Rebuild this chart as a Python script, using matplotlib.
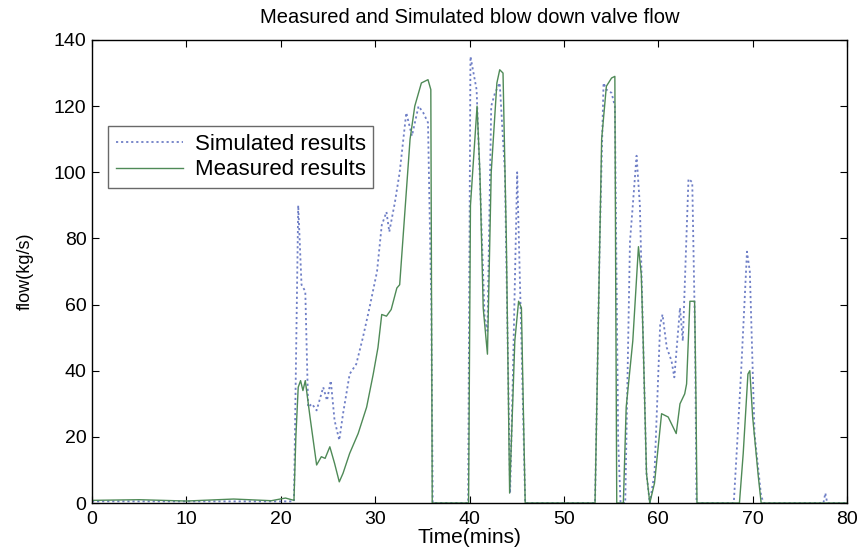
import matplotlib
matplotlib.use("Agg")
import matplotlib.pyplot as plt

plt.rcParams['font.family'] = ['Liberation Sans', 'DejaVu Sans']

# Simulated results (blue dotted)
sim_t = [0, 21.4, 21.55, 21.85, 22.2, 22.6, 22.9, 23.3, 23.8, 24.5, 24.9, 25.3, 25.7, 26.2, 26.6,
         27.3, 28.0, 28.7, 29.4, 30.2, 30.7, 31.2, 31.5, 32.1, 32.6, 33.3, 33.9, 34.6, 35.1, 35.6,
         35.95, 36.1, 39.85, 40.1, 40.75, 41.1, 41.6, 41.9, 42.3, 42.7, 43.2, 43.75, 44.3, 44.6,
         45.05, 45.5, 45.9, 53.3, 53.8, 54.2, 54.5, 55.05, 55.4, 55.75, 56.0, 56.5, 57.0, 57.3,
         57.7, 58.05, 58.4, 58.75, 59.1, 59.6, 60.2, 60.45, 60.9, 61.4, 61.7, 62.3, 62.6, 63.2,
         63.6, 63.9, 64.05, 68.0, 68.4, 68.8, 69.4, 69.7, 70.2, 70.9, 71.2, 77.5, 77.7, 77.9, 80]
sim_v = [0.5, 0.5, 30, 90, 66, 64, 29, 30, 28, 35, 31, 37, 25, 19, 27,
         39, 42, 50, 59, 70, 84, 88, 82, 91, 100, 118, 111, 120, 118, 115,
         60, 0, 0, 135, 125, 98, 56, 52, 120, 124, 127, 100, 3, 39,
         100, 49, 0, 0, 80, 127, 125, 124, 120, 19, 0, 0, 79, 90,
         105, 90, 49, 9, 0, 9, 54, 57, 47, 43, 38, 59, 49, 98,
         97, 50, 0, 0, 20, 41, 76, 70, 21, 2, 0, 0, 3, 0, 0]

# Measured results (green solid)
meas_t = [0, 5, 10, 15, 19, 20.5, 21.4, 21.6, 21.85, 22.1, 22.35, 22.6, 23.1, 23.8, 24.3, 24.7,
          25.2, 25.7, 26.2, 26.6, 27.3, 28.2, 29.1, 29.8, 30.3, 30.7, 31.2, 31.7, 32.3, 32.6,
          33.2, 33.7, 34.2, 34.9, 35.6, 35.9, 36.05, 39.9, 40.1, 40.8, 41.1, 41.45, 41.9, 42.3,
          42.9, 43.2, 43.55, 43.9, 44.25, 44.8, 45.2, 45.5, 45.7, 45.9, 53.3, 54.0, 54.5, 55.05,
          55.4, 55.5, 55.6, 56.3, 56.6, 57.3, 57.9, 58.2, 58.4, 58.75, 59.1, 59.6, 60.35, 61.05,
          61.9, 62.3, 62.8, 63.0, 63.35, 63.85, 64.0, 64.1, 68.6, 69.0, 69.5, 69.7, 70.0, 70.6,
          70.9, 80]
meas_v = [0.8, 1.0, 0.6, 1.2, 0.7, 1.5, 0.8, 20, 35, 37, 34, 37, 26, 11.5, 14, 13.5,
          17, 12, 6.4, 9, 15, 21, 29, 39, 47, 57, 56.5, 58.5, 65, 66,
          90, 110, 120, 127, 128, 125, 0, 0, 90, 120, 100, 59, 45, 100,
          127, 131, 130, 80, 3, 49, 61, 59, 29, 0, 0, 110, 126, 128.5,
          129, 60, 0, 0, 29, 49, 77.5, 69, 49, 9, 0, 6, 27, 26,
          21, 30, 33, 36, 61, 61, 30, 0, 0, 15, 39, 40, 26, 8,
          0, 0]

x_ticks = [0, 10, 20, 30, 40, 50, 60, 70, 80]
y_ticks = [0, 20, 40, 60, 80, 100, 120, 140]

fig = plt.figure(figsize=(8.63, 5.53), dpi=100)
ax = fig.add_axes([0.1066, 0.0904, 0.8749, 0.8373])

ax.plot(sim_t, sim_v, linestyle=(0, (1.2, 1.6)), color='#6f7fc6', linewidth=1.3,
        label='Simulated results')
ax.plot(meas_t, meas_v, linestyle='-', color='#4f8a57', linewidth=1.0,
        label='Measured results')

ax.set_xlim(0, 80)
ax.set_ylim(0, 140)
ax.set_xticks(x_ticks)
ax.set_yticks(y_ticks)
ax.tick_params(direction='in', length=5, width=0.8, top=True, right=True,
               labelsize=14)
ax.tick_params(axis='x', pad=6)
ax.tick_params(axis='y', pad=4)
for s in ax.spines.values():
    s.set_linewidth(1.0)
    s.set_color('black')

ax.set_xlabel('Time(mins)', fontsize=15, labelpad=0)
ax.set_ylabel('flow(kg/s)', fontsize=13, labelpad=14)
ax.set_title('Measured and Simulated blow down valve flow', fontsize=14.5, pad=12)

leg = ax.legend(loc='upper left', bbox_to_anchor=(0.021, 0.814), fontsize=16,
                frameon=True, fancybox=False, edgecolor='#444444', borderpad=0.35,
                handlelength=3.05, handletextpad=0.5, labelspacing=0.2, borderaxespad=0)
leg.get_frame().set_linewidth(1.0)

fig.savefig('out.png', dpi=100)
